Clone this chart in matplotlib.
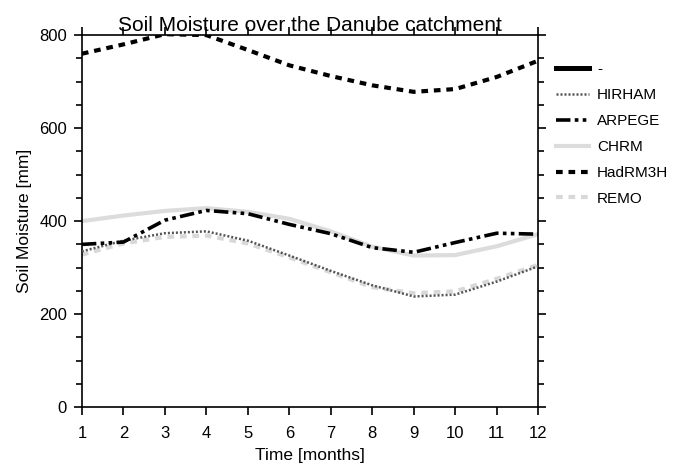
import matplotlib
matplotlib.use("Agg")
import matplotlib.pyplot as plt
from matplotlib.ticker import MultipleLocator

months = [1, 2, 3, 4, 5, 6, 7, 8, 9, 10, 11, 12]
hirham = [335, 358, 374, 378, 358, 326, 293, 262, 238, 242, 270, 303]
arpege = [350, 355, 402, 423, 416, 393, 373, 343, 333, 354, 374, 372]
chrm = [400, 412, 422, 428, 420, 405, 378, 345, 326, 327, 346, 372]
hadrm3h = [760, 780, 802, 800, 768, 735, 712, 692, 678, 684, 710, 745]
remo = [328, 352, 366, 369, 352, 322, 290, 258, 245, 249, 276, 306]
obs = []  # "-" entry: no values shown in the chart

plt.rcParams["font.family"] = ["Liberation Sans", "DejaVu Sans"]

fig = plt.figure(figsize=(6.77, 4.68), dpi=100)
ax = fig.add_axes([0.121, 0.130, 0.674, 0.795])

ax.plot(obs, obs, color="black", lw=3.6, label="-")
ax.plot(months, hirham, color="#555555", lw=1.8, dashes=(0.8, 0.8), label="HIRHAM", zorder=4)
ax.plot(months, arpege, color="black", lw=2.6, dashes=(4, 1.2, 1, 1.2, 1, 1.2), label="ARPEGE", zorder=4)
ax.plot(months, chrm, color="#dcdcdc", lw=3.0, label="CHRM", zorder=2)
ax.plot(months, hadrm3h, color="black", lw=3.0, dashes=(1.6, 1.4), label="HadRM3H", zorder=4)
ax.plot(months, remo, color="#d8d8d8", lw=3.0, dashes=(1.6, 1.4), label="REMO", zorder=2)

ax.set_xlim(1, 12)
ax.set_ylim(0, 800)
ax.set_xticks(months)
ax.yaxis.set_major_locator(MultipleLocator(200))
ax.yaxis.set_minor_locator(MultipleLocator(50))
ax.tick_params(which="both", direction="out", top=True, right=True, labelsize=12, width=1.2)
ax.tick_params(which="major", length=5.8)
ax.tick_params(axis="x", which="major", pad=8)
ax.tick_params(axis="y", which="major", pad=5)
ax.tick_params(which="minor", length=4)
for s in ax.spines.values():
    s.set_linewidth(1.2)

ax.set_xlabel("Time [months]", fontsize=12.5, labelpad=5)
ax.set_ylabel("Soil Moisture [mm]", fontsize=12.5, labelpad=5)
ax.set_title("Soil Moisture over the Danube catchment", fontsize=15, pad=3)

fig.legend(loc="upper left", bbox_to_anchor=(0.821, 0.867), frameon=False,
           borderpad=0, borderaxespad=0,
           fontsize=11, handlelength=2.2, handletextpad=0.5, labelspacing=0.78)

fig.savefig("out.png", facecolor="white")
